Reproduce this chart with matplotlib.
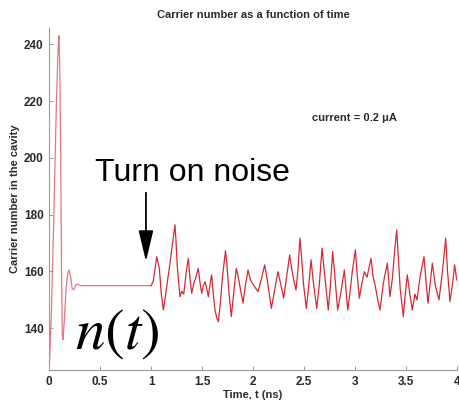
import matplotlib
matplotlib.use("Agg")
import matplotlib.pyplot as plt

plt.rcParams['font.family'] = ['Liberation Sans', 'DejaVu Sans']
plt.rcParams['mathtext.fontset'] = 'stix'

# Start-up transient of the carrier number (t in ns)
t_transient = [0.0, 0.02, 0.045, 0.07, 0.088, 0.095, 0.103, 0.112, 0.12, 0.128,
               0.135, 0.148, 0.165, 0.182, 0.195, 0.21, 0.225, 0.24, 0.26, 0.28,
               0.31, 0.5, 1.0]
n_transient = [126, 145, 180, 220, 240, 243, 232, 200, 160, 137,
               136, 143, 154, 159.5, 160.5, 158, 154, 153.5, 155.3, 155.5,
               155, 155, 155]

# Carrier number after the noise source is switched on
t_noise = [1.0, 1.02, 1.035, 1.054, 1.068, 1.08, 1.1, 1.12, 1.135, 1.153,
           1.17, 1.185, 1.21, 1.234, 1.245, 1.257, 1.283, 1.3, 1.32, 1.345,
           1.365, 1.38, 1.398, 1.42, 1.44, 1.463, 1.48, 1.496, 1.512, 1.529,
           1.545, 1.562, 1.58, 1.594, 1.61, 1.627, 1.645, 1.66, 1.68, 1.7,
           1.73, 1.745, 1.765, 1.787, 1.81, 1.836, 1.85, 1.87, 1.902, 1.925,
           1.951, 1.975, 2.0, 2.049, 2.08, 2.115, 2.14, 2.18, 2.21, 2.245,
           2.27, 2.301, 2.33, 2.36, 2.375, 2.4, 2.422, 2.44, 2.461, 2.475,
           2.495, 2.523, 2.545, 2.57, 2.59, 2.626, 2.65, 2.678, 2.7, 2.739,
           2.76, 2.782, 2.8, 2.831, 2.86, 2.897, 2.93, 2.95, 2.975, 3.005,
           3.025, 3.044, 3.07, 3.093, 3.12, 3.159, 3.18, 3.2, 3.225, 3.247,
           3.28, 3.319, 3.345, 3.37, 3.39, 3.411, 3.425, 3.445, 3.476, 3.495,
           3.515, 3.54, 3.564, 3.59, 3.61, 3.64, 3.679, 3.7, 3.718, 3.74,
           3.761, 3.79, 3.826, 3.86, 3.892, 3.91, 3.934, 3.96, 3.98, 4.0]
n_noise = [155.0, 156.5, 160, 165.2, 163, 161.1, 152, 146.4, 150, 154.6,
           159, 162.9, 170, 176.4, 170, 161.7, 151.1, 153, 152, 160,
           164.6, 158, 152.3, 156, 158, 161.1, 156, 152.3, 155, 156.4,
           154, 151.1, 156, 158.8, 152, 146.4, 143.5, 142.3, 149, 158,
           167.3, 162, 152, 144.1, 152, 161.1, 159, 155, 148.8, 155,
           160.5, 157, 155.5, 152.9, 157, 162.3, 157, 147, 153, 159.9,
           156, 150.6, 158, 165.8, 162, 157, 153.5, 160, 171.7, 166,
           156, 147, 154, 164.1, 157, 147, 155, 168.2, 160, 146.4,
           155, 167, 160, 146.4, 152, 160.5, 146.4, 152, 160, 167.6,
           158, 150.6, 156, 159.9, 158, 164.6, 158, 155, 150, 146.4,
           156, 162.9, 151.1, 158, 167, 174.6, 166, 154, 144.1, 152,
           158.8, 152, 146.4, 152, 150, 158, 165.2, 156, 148.8, 156,
           162.9, 155, 150, 160, 171.7, 160, 149.4, 156, 162.3, 157]

x_ticks = [0, 0.5, 1, 1.5, 2, 2.5, 3, 3.5, 4]
x_tick_labels = ['0', '0.5', '1', '1.5', '2', '2.5', '3', '3.5', '4']
y_ticks = [140, 160, 180, 200, 220, 240]

fig = plt.figure(figsize=(4.59, 4.04), dpi=100)
ax = fig.add_axes([49.3 / 459, 34 / 404, 407.4 / 459, 342 / 404])

ax.plot(t_transient, n_transient, color='#e27884', lw=0.9)
ax.plot(t_noise, n_noise, color='#d42a35', lw=0.9)

ax.set_xlim(0, 4)
ax.set_ylim(125.3, 245.7)
ax.set_xticks(x_ticks)
ax.set_xticklabels(x_tick_labels)
ax.set_yticks(y_ticks)

for side in ('top', 'right'):
    ax.spines[side].set_visible(False)
for side in ('left', 'bottom'):
    ax.spines[side].set_color('#9a9a9a')
    ax.spines[side].set_linewidth(0.8)
ax.tick_params(direction='in', length=3, width=0.7, color='#9a9a9a',
               labelsize=8.5, labelcolor='#2a2a2a', pad=4)
for lab in ax.get_xticklabels() + ax.get_yticklabels():
    lab.set_fontweight('bold')

ax.set_title('Carrier number as a function of time', fontsize=8,
             fontweight='bold', color='#2a2a2a', pad=7)
ax.set_xlabel('Time, t (ns)', fontsize=8, fontweight='bold', color='#2a2a2a',
              labelpad=2)
ax.set_ylabel('Carrier number in the cavity', fontsize=8, fontweight='bold',
              color='#2a2a2a', labelpad=3)

ax.text(2.576, 214.0, 'current = 0.2 μA', fontsize=8, fontweight='bold',
        color='#2a2a2a', ha='left', va='center')

ax.text(0.449, 192.0, 'Turn on noise', fontsize=23, color='black',
        ha='left', va='baseline')

ax.annotate('', xy=(0.949, 163.5), xytext=(0.949, 187.7),
            arrowprops=dict(arrowstyle='-|>,head_length=1.9,head_width=0.45',
                            color='black', lw=1.3, shrinkA=0, shrinkB=0))

ax.text(0.252, 132.96, r'$n(t)$', fontsize=42.5, color='black',
        ha='left', va='baseline')

fig.savefig('out.png', dpi=100)
